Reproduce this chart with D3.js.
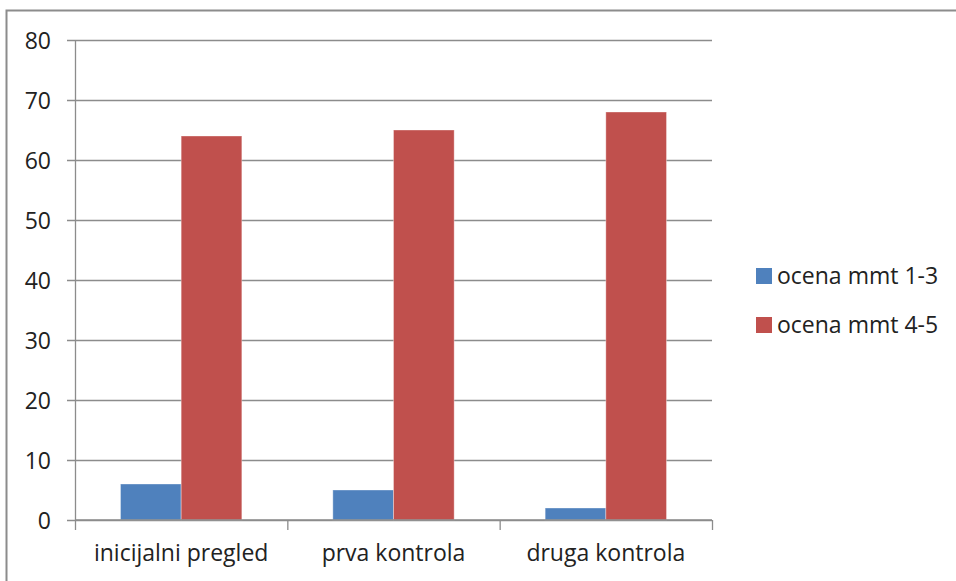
<!DOCTYPE html>
<html>
<head>
<meta charset="utf-8">
<script src="https://cdn.jsdelivr.net/npm/d3@7"></script>
<style>
  html, body { margin: 0; padding: 0; background: #fff; }
  svg { display: block; }
  text { font-family: "Open Sans", "Liberation Sans", sans-serif; fill: #222; }
</style>
</head>
<body>
<svg id="chart" width="956" height="581"></svg>
<script>
// Data
const categories = ["inicijalni pregled", "prva kontrola", "druga kontrola"];
const seriesNames = ["ocena mmt 1-3", "ocena mmt 4-5"];
const lowScores = [6, 5, 2];
const highScores = [64, 65, 68];
const yTicks = [0, 10, 20, 30, 40, 50, 60, 70, 80];
const colors = ["#4F81BD", "#C0504D"];

const series = [lowScores, highScores];

const svg = d3.select("#chart");

// Outer frame
svg.append("rect")
  .attr("x", 6.5).attr("y", 10.5)
  .attr("width", 980).attr("height", 600)
  .attr("fill", "none").attr("stroke", "#8c8c8c").attr("stroke-width", 2);

const plot = { left: 75, right: 712, top: 40, bottom: 520 };

const x = d3.scaleBand()
  .domain(categories)
  .range([plot.left, plot.right])
  .paddingInner(0).paddingOuter(0);

const y = d3.scaleLinear()
  .domain([0, 80])
  .range([plot.bottom, plot.top]);

const gapRatio = 1.5; // gap width relative to one bar
const barW = x.bandwidth() / (series.length + gapRatio);
const inner = d3.scaleBand()
  .domain(d3.range(series.length))
  .range([0, barW * series.length]);

// Horizontal gridlines with tick stubs
const yAxis = d3.axisLeft(y)
  .tickValues(yTicks)
  .tickSize(-(plot.right - plot.left))
  .tickSizeOuter(0)
  .tickPadding(24);

const gy = svg.append("g")
  .attr("transform", `translate(${plot.left},0)`)
  .call(yAxis);
gy.select(".domain").remove();
gy.selectAll(".tick line")
  .attr("x1", -8)
  .attr("stroke", "#8c8c8c")
  .attr("stroke-width", 1.3);
gy.selectAll(".tick text")
  .style("font-size", "23px")
  .attr("fill", "#222")
  .attr("dy", "0.35em");

// Vertical axis line
svg.append("line")
  .attr("x1", plot.left + 0.5).attr("x2", plot.left + 0.5)
  .attr("y1", plot.top).attr("y2", plot.bottom)
  .attr("stroke", "#8c8c8c").attr("stroke-width", 1.3);

// Bars
categories.forEach((c, i) => {
  const g = svg.append("g")
    .attr("transform", `translate(${x(c) + (x.bandwidth() - barW * series.length) / 2},0)`);
  series.forEach((vals, s) => {
    g.append("rect")
      .attr("x", inner(s))
      .attr("width", inner.bandwidth())
      .attr("y", y(vals[i]))
      .attr("height", y(0) - y(vals[i]))
      .attr("fill", colors[s])
      .attr("stroke", "rgba(255,255,255,0.35)")
      .attr("stroke-width", 1);
  });
});

// Category axis
const xAxis = d3.axisBottom(x).tickSize(0).tickPadding(25).tickSizeOuter(0);
const gx = svg.append("g")
  .attr("transform", `translate(0,${plot.bottom})`)
  .call(xAxis);
gx.select(".domain").remove();
gx.selectAll(".tick text").style("font-size", "23px").attr("fill", "#222");

svg.append("line")
  .attr("x1", plot.left).attr("x2", plot.right)
  .attr("y1", plot.bottom).attr("y2", plot.bottom)
  .attr("stroke", "#8c8c8c").attr("stroke-width", 1.3);

// Category separators below the baseline
const bounds = categories.map(c => x(c)).concat([plot.right]);
svg.selectAll("line.sep").data(bounds).enter().append("line")
  .attr("class", "sep")
  .attr("x1", d => d + 0.5).attr("x2", d => d + 0.5)
  .attr("y1", plot.bottom).attr("y2", plot.bottom + 10)
  .attr("stroke", "#8c8c8c").attr("stroke-width", 1.3);

// Legend
const legend = svg.append("g").attr("transform", "translate(756,0)");
const legendY = [276, 325];
seriesNames.forEach((name, s) => {
  legend.append("rect")
    .attr("x", 0).attr("y", legendY[s] - 8)
    .attr("width", 16).attr("height", 16)
    .attr("fill", colors[s]);
  legend.append("text")
    .attr("x", 21).attr("y", legendY[s])
    .attr("dy", "0.35em")
    .style("font-size", "23px")
    .text(name);
});
</script>
</body>
</html>
